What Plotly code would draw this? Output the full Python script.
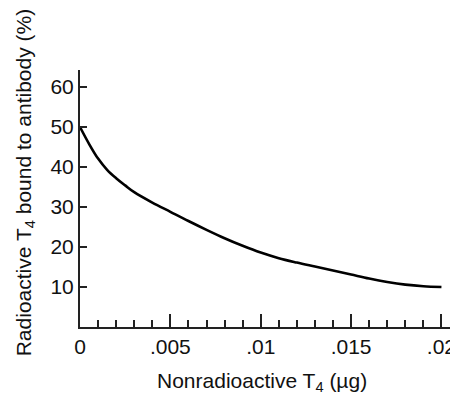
import plotly.graph_objects as go

# Data
x_ug = [0, 0.0005, 0.001, 0.0015, 0.002, 0.0025, 0.003, 0.004, 0.005, 0.006, 0.007,
        0.008, 0.009, 0.010, 0.011, 0.012, 0.013, 0.014, 0.015, 0.016, 0.017,
        0.018, 0.019, 0.020]
bound_pct = [50, 45.8, 42.1, 39.3, 37.2, 35.4, 33.7, 31.1, 28.8, 26.5, 24.3,
             22.2, 20.3, 18.6, 17.2, 16.1, 15.1, 14.1, 13.1, 12.1, 11.25,
             10.6, 10.2, 10.0]

x_tickvals = [0, 0.005, 0.01, 0.015, 0.02]
x_ticktext = ["0", ".005", ".01", ".015", ".02"]
y_tickvals = [10, 20, 30, 40, 50, 60]
y_ticktext = ["10", "20", "30", "40", "50", "60"]

FONT = "Liberation Sans, Arial, Helvetica, sans-serif"
AX = "#222222"
TXT = "#111111"
FS = 21

fig = go.Figure()
fig.add_trace(go.Scatter(
    x=x_ug, y=bound_pct, mode="lines",
    line=dict(color="#000000", width=2.6, shape="spline", smoothing=1.0),
    showlegend=False, hoverinfo="skip",
))

# page body has an 8px margin: figure is 450x386 so it fills the 458x394 window
fig.update_layout(
    width=450, height=386,
    margin=dict(l=72, r=3, t=62, b=67),
    paper_bgcolor="white", plot_bgcolor="white",
    font=dict(family=FONT, size=FS, color=TXT),
    xaxis=dict(
        range=[0, 0.02075], showgrid=False, zeroline=False, automargin=False,
        showline=True, linecolor=AX, linewidth=2,
        tickmode="array", tickvals=x_tickvals, ticktext=x_ticktext,
        ticks="inside", ticklen=13, tickwidth=1.5, tickcolor=AX,
        minor=dict(dtick=0.001, tick0=0, ticks="inside", ticklen=7,
                   tickwidth=1.5, tickcolor=AX, showgrid=False),
        tickfont=dict(size=FS, color=TXT),
        fixedrange=True,
    ),
    yaxis=dict(
        range=[0, 64.25], showgrid=False, zeroline=False, automargin=False,
        showline=True, linecolor=AX, linewidth=2,
        tickmode="array", tickvals=y_tickvals, ticktext=y_ticktext,
        ticks="inside", ticklen=7, tickwidth=1.5, tickcolor=AX,
        tickfont=dict(size=FS, color=TXT),
        fixedrange=True,
    ),
    annotations=[
        dict(text="Nonradioactive T<sub>4</sub> (µg)", xref="paper", yref="paper",
             x=0.485, y=-0.155, xanchor="center", yanchor="top", showarrow=False,
             font=dict(size=FS, color=TXT, family=FONT)),
        dict(text="Radioactive T<sub>4</sub> bound to antibody (%)", xref="paper", yref="paper",
             x=-0.1467, y=0.563, xanchor="center", yanchor="middle", showarrow=False,
             textangle=-90, font=dict(size=FS, color=TXT, family=FONT)),
    ],
)

fig.write_html("out.html")
